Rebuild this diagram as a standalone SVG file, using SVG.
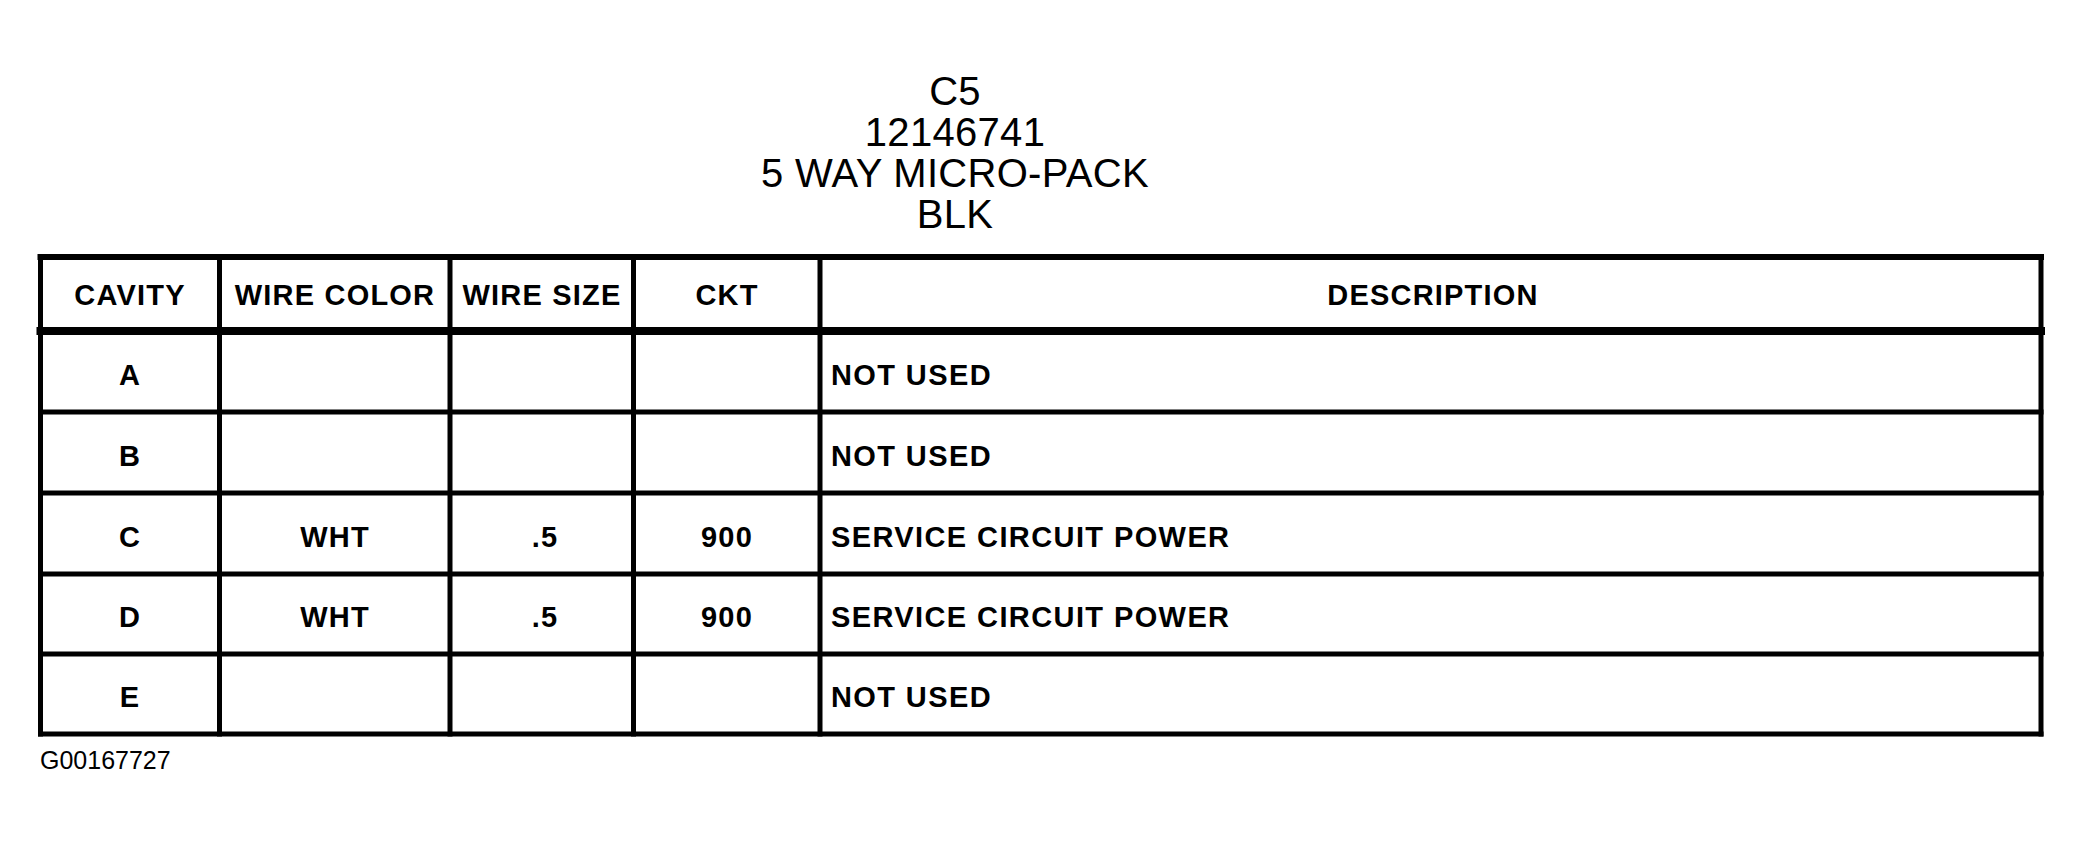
<svg xmlns="http://www.w3.org/2000/svg" width="2081" height="843" viewBox="0 0 2081 843">
<style>
.ln{stroke:#000;stroke-width:5;fill:none;stroke-linecap:square}
.hd{font-family:"Liberation Sans",Arial,sans-serif;font-weight:bold;font-size:29px;letter-spacing:1.2px;fill:#000;text-anchor:middle}
.c{font-family:"Liberation Sans",Arial,sans-serif;font-weight:bold;font-size:29px;letter-spacing:1.2px;fill:#000;text-anchor:middle}
.d{font-family:"Liberation Sans",Arial,sans-serif;font-weight:bold;font-size:29px;letter-spacing:1.4px;fill:#000;text-anchor:start}
.t{font-family:"Liberation Sans",Arial,sans-serif;font-size:40px;letter-spacing:0.3px;fill:#000;text-anchor:middle}
.f{font-family:"Liberation Sans",Arial,sans-serif;font-size:25px;fill:#000}
</style>
<rect width="2081" height="843" fill="#fff"/>
<g id="title">
<text class="t" x="955" y="105">C5</text>
<text class="t" x="955" y="146">12146741</text>
<text class="t" x="955" y="187">5 WAY MICRO-PACK</text>
<text class="t" x="955" y="228">BLK</text>
</g>
<g id="grid">
<line class="ln" x1="40.5" y1="257" x2="2041" y2="257" style="stroke-width:6"/>
<line class="ln" x1="40.5" y1="331" x2="2041" y2="331" style="stroke-width:8"/>
<line class="ln" x1="40.5" y1="412" x2="2041" y2="412"/>
<line class="ln" x1="40.5" y1="493" x2="2041" y2="493"/>
<line class="ln" x1="40.5" y1="574" x2="2041" y2="574"/>
<line class="ln" x1="40.5" y1="654" x2="2041" y2="654"/>
<line class="ln" x1="40.5" y1="734" x2="2041" y2="734"/>
<line class="ln" x1="40.5" y1="257" x2="40.5" y2="734"/>
<line class="ln" x1="219.5" y1="257" x2="219.5" y2="734"/>
<line class="ln" x1="450" y1="257" x2="450" y2="734"/>
<line class="ln" x1="633.5" y1="257" x2="633.5" y2="734"/>
<line class="ln" x1="820" y1="257" x2="820" y2="734"/>
<line class="ln" x1="2041" y1="257" x2="2041" y2="734"/>
</g>
<g id="header">
<text class="hd" x="130" y="305">CAVITY</text>
<text class="hd" x="335" y="305">WIRE COLOR</text>
<text class="hd" x="542" y="305">WIRE SIZE</text>
<text class="hd" x="727" y="305">CKT</text>
<text class="hd" x="1433" y="305">DESCRIPTION</text>
</g>
<g id="row-A">
<text class="c" x="130" y="384.5">A</text>
<text class="d" x="831" y="384.5">NOT USED</text>
</g>
<g id="row-B">
<text class="c" x="130" y="465.5">B</text>
<text class="d" x="831" y="465.5">NOT USED</text>
</g>
<g id="row-C">
<text class="c" x="130" y="546.5">C</text>
<text class="c" x="335" y="546.5">WHT</text>
<text class="c" x="545" y="546.5">.5</text>
<text class="c" x="727" y="546.5">900</text>
<text class="d" x="831" y="546.5">SERVICE CIRCUIT POWER</text>
</g>
<g id="row-D">
<text class="c" x="130" y="627">D</text>
<text class="c" x="335" y="627">WHT</text>
<text class="c" x="545" y="627">.5</text>
<text class="c" x="727" y="627">900</text>
<text class="d" x="831" y="627">SERVICE CIRCUIT POWER</text>
</g>
<g id="row-E">
<text class="c" x="130" y="707">E</text>
<text class="d" x="831" y="707">NOT USED</text>
</g>
<g id="footer">
<text class="f" x="40" y="769">G00167727</text>
</g>
</svg>
